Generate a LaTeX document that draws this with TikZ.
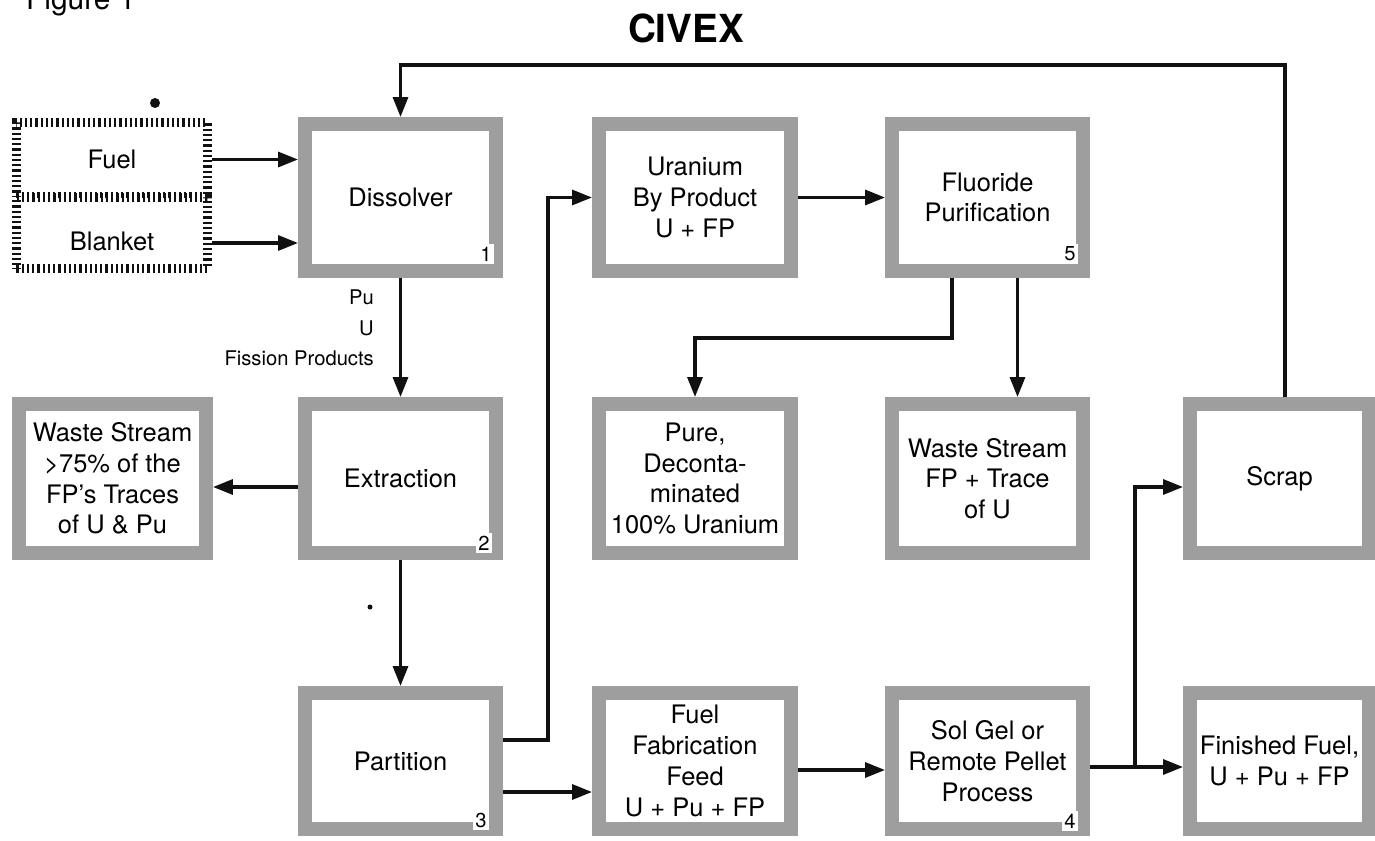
\documentclass[tikz,border=0pt]{standalone}
\usepackage{fontspec}
\setmainfont{TeX Gyre Heros}
\usetikzlibrary{positioning,arrows.meta,calc}
\definecolor{inkBlack}{HTML}{111111}
\definecolor{frameGray}{HTML}{9E9E9E}
\definecolor{paperWhite}{HTML}{FFFFFF}
\tikzset{
    stagebox/.style={draw=frameGray,fill=paperWhite,line width=0.28cm,
        inner sep=2pt,align=center,font=\fontsize{14.5}{17.5}\selectfont,
        minimum width=3.82cm,minimum height=2.94cm},
    feedbox/.style={draw=inkBlack,fill=paperWhite,line width=0.17cm,
        dash pattern=on 0.045cm off 0.06cm,inner sep=2pt,
        minimum width=3.83cm,font=\fontsize{14.5}{17.5}\selectfont},
    stagenum/.style={fill=paperWhite,inner sep=1.5pt,
        font=\fontsize{11.5}{13}\selectfont},
    arrow/.style={-{Triangle[length=0.4cm,width=0.3cm]},draw=inkBlack,
        line width=0.065cm}
}
\begin{document}
\begin{tikzpicture}[x=0.02cm,y=-0.02cm]
    \path[fill=white,use as bounding box] (0,0) rectangle (1375,841);
    \node[anchor=base west,font=\fontsize{17}{20}\selectfont] (figlabel) at (20,10) {Figure 1};
    \node[font=\fontsize{22}{26}\selectfont\bfseries] (title) at (686,28) {CIVEX};
    \node[feedbox,minimum height=1.48cm] (fuelsrc) at (112,159.5) {Fuel};
    \node[feedbox,minimum height=1.42cm,text height=0.7cm] (blanketsrc) at (112,233) {Blanket};
    \node[stagebox] (dissolver) at (400.5,197.5) {Dissolver};
    \node[stagebox,minimum height=2.98cm] (extraction) at (400.5,478.5) {Extraction};
    \node[stagebox,minimum height=2.72cm] (partition) at (400.5,761) {Partition};
    \node[stagebox,minimum width=3.74cm,minimum height=2.98cm] (wasteleft) at (112.5,478.5)
        {Waste Stream\\>75\% of the\\FP’s Traces\\of U \& Pu};
    \node[stagebox,minimum width=3.84cm] (uranium) at (695,197.5) {Uranium\\By Product\\U + FP};
    \node[stagebox] (fluoride) at (987.5,197.5) {Fluoride\\Purification};
    \node[stagebox,minimum width=3.84cm,minimum height=2.98cm] (pure) at (695,478.5)
        {Pure,\\Deconta-\\minated\\100\% Uranium};
    \node[stagebox,minimum height=2.98cm] (fpwaste) at (987.5,478.5) {Waste Stream\\FP + Trace\\of U};
    \node[stagebox,minimum width=3.58cm,minimum height=2.98cm] (scrap) at (1279.5,478.5) {Scrap};
    \node[stagebox,minimum width=3.84cm,minimum height=2.72cm] (fuelfeed) at (695,761)
        {Fuel\\Fabrication\\Feed\\U + Pu + FP};
    \node[stagebox,minimum height=2.72cm] (solgel) at (987.5,761) {Sol Gel or\\Remote Pellet\\Process};
    \node[stagebox,minimum width=3.58cm,minimum height=2.72cm] (finished) at (1279.5,761)
        {Finished Fuel,\\U + Pu + FP};
    \node[stagenum] (numone) at ([shift={(-0.34cm,0.48cm)}]dissolver.south east) {1};
    \node[stagenum] (numtwo) at ([shift={(-0.38cm,0.34cm)}]extraction.south east) {2};
    \node[stagenum] (numthree) at ([shift={(-0.44cm,0.32cm)}]partition.south east) {3};
    \node[stagenum] (numfour) at ([shift={(-0.4cm,0.3cm)}]solgel.south east) {4};
    \node[stagenum] (numfive) at ([shift={(-0.4cm,0.48cm)}]fluoride.south east) {5};
    \node[anchor=east,align=right,font=\fontsize{11.5}{17.5}\selectfont] (streamlabel) at (380,328)
        {Pu\\U\\Fission Products};
    \fill[inkBlack] (155,103) circle (0.1cm);
    \fill[inkBlack] (370,607) circle (0.05cm);
    \coordinate (toprail) at (1285,65);
    \coordinate (purebend) at (952,338);
    \coordinate (partjog) at (548,740);
    \coordinate (scrapjog) at (1135,767);
    \draw[arrow] (fuelsrc.east) -- (fuelsrc.east -| dissolver.west);
    \draw[arrow] ([yshift=-0.2cm]blanketsrc.east) -- ([yshift=-0.2cm]blanketsrc.east -| dissolver.west);
    \draw[arrow] (dissolver.south) -- (extraction.north);
    \draw[arrow] (extraction.south) -- (partition.north);
    \draw[arrow] ([yshift=-0.17cm]extraction.west) -- ([yshift=-0.17cm]wasteleft.east);
    \draw[arrow] (uranium.east) -- (fluoride.west);
    \draw[arrow] (fluoride.south -| purebend) -- (purebend) -| (pure.north);
    \draw[arrow] ([xshift=0.6cm]fluoride.south) -- ([xshift=0.6cm]fpwaste.north);
    \draw[arrow] (partition.east |- partjog) -- (partjog) |- (uranium.west);
    \draw[arrow] ([yshift=-0.62cm]partition.east) -- ([yshift=-0.62cm]fuelfeed.west);
    \draw[arrow] ([yshift=-0.18cm]fuelfeed.east) -- ([yshift=-0.18cm]solgel.west);
    \draw[arrow] ([yshift=-0.12cm]solgel.east) -- ([yshift=-0.12cm]finished.west);
    \draw[arrow] (scrapjog) |- ([yshift=-0.17cm]scrap.west);
    \draw[arrow] (scrap.north -| toprail) -- (toprail) -| (dissolver.north);
\end{tikzpicture}
\end{document}
